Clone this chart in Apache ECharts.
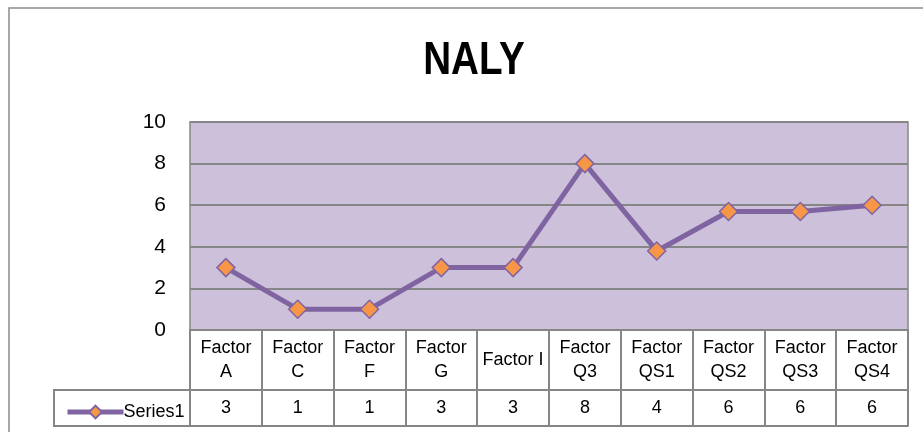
<!DOCTYPE html>
<html>
<head>
<meta charset="utf-8">
<script src="https://cdn.jsdelivr.net/npm/echarts@6/dist/echarts.min.js"></script>
<style>
	html, body { margin: 0; padding: 0; background: #fff; }
	#chart { width: 923px; height: 432px; }
</style>
</head>
<body>
<div id="chart"></div>
<script>
// chart data
var categories = [ 'Factor\nA', 'Factor\nC', 'Factor\nF', 'Factor\nG', 'Factor I',
		'Factor\nQ3', 'Factor\nQS1', 'Factor\nQS2', 'Factor\nQS3', 'Factor\nQS4' ];
var series1 = [ 3, 1, 1, 3, 3, 8, 3.8, 5.7, 5.7, 6 ];
var yTicks = [ 0, 2, 4, 6, 8, 10 ];

var font = 'Liberation Sans';
var gridColor = '#868686';

function initPage() {
	var myChart = echarts.init(document.getElementById('chart'));

	myChart.setOption({
		animation : false,
		legend : {
			left : 60,
			top : 398,
			itemWidth : 56,
			itemHeight : 16,
			itemGap : 4,
			lineStyle : { width : 5 },
			textStyle : {
				fontFamily : font,
				fontSize : 18,
				color : '#000',
				padding : [ 0, 0, 0, -5 ]
			},
			data : [ 'Series1' ]
		},
		graphic : [ {
			// title, narrowed to look like the condensed bold original
			type : 'text',
			x : 474,
			y : 61,
			scaleX : 0.84,
			style : {
				text : 'NALY',
				align : 'center',
				verticalAlign : 'middle',
				font : 'bold 46px "Liberation Sans"',
				fill : '#000'
			},
			silent : true
		}, {
			// outer chart frame
			type : 'rect',
			shape : { x : 9, y : 8, width : 940, height : 460 },
			style : { fill : null, stroke : '#8c8c8c', lineWidth : 1.5 },
			silent : true
		}, {
			// legend cell of the data table
			type : 'rect',
			shape : { x : 54, y : 390, width : 136, height : 36 },
			style : { fill : null, stroke : gridColor, lineWidth : 2 },
			silent : true
		} ],
		grid : {
			left : 190,
			top : 122,
			width : 718,
			height : 208,
			show : true,
			backgroundColor : '#CCC0DA',
			borderColor : gridColor,
			borderWidth : 1.5
		},
		xAxis : [ {
			type : 'category',
			data : categories,
			boundaryGap : true,
			axisLine : { lineStyle : { color : gridColor, width : 2 } },
			axisTick : {
				show : true,
				interval : 0,
				length : 96,
				lineStyle : { color : gridColor, width : 2 }
			},
			axisLabel : {
				interval : 0,
				margin : 30,
				verticalAlign : 'middle',
				lineHeight : 24,
				fontFamily : font,
				fontSize : 18,
				color : '#000'
			}
		}, {
			type : 'category',
			data : categories,
			position : 'bottom',
			offset : 60,
			axisLine : { lineStyle : { color : gridColor, width : 2 } },
			axisTick : { show : false },
			axisLabel : {
				interval : 0,
				margin : 18,
				verticalAlign : 'middle',
				fontFamily : font,
				fontSize : 18,
				color : '#000',
				formatter : function(value, index) {
					return String(Math.round(series1[index]));
				}
			}
		}, {
			type : 'category',
			data : categories,
			position : 'bottom',
			offset : 96,
			axisLine : { lineStyle : { color : gridColor, width : 2 } },
			axisTick : { show : false },
			axisLabel : { show : false }
		} ],
		yAxis : {
			type : 'value',
			min : yTicks[0],
			max : yTicks[yTicks.length - 1],
			interval : 2,
			axisLine : { show : false },
			axisTick : { show : false },
			axisLabel : {
				margin : 24,
				fontFamily : font,
				fontSize : 21,
				color : '#000'
			},
			splitLine : {
				lineStyle : { color : gridColor, width : 2 }
			}
		},
		series : [ {
			name : 'Series1',
			type : 'line',
			data : series1,
			symbol : 'diamond',
			symbolSize : 18,
			lineStyle : { color : '#8064A2', width : 5 },
			itemStyle : {
				color : '#F79646',
				borderColor : '#8064A2',
				borderWidth : 1.5
			},
			z : 5
		} ]
	});
}

initPage();
</script>
</body>
</html>
